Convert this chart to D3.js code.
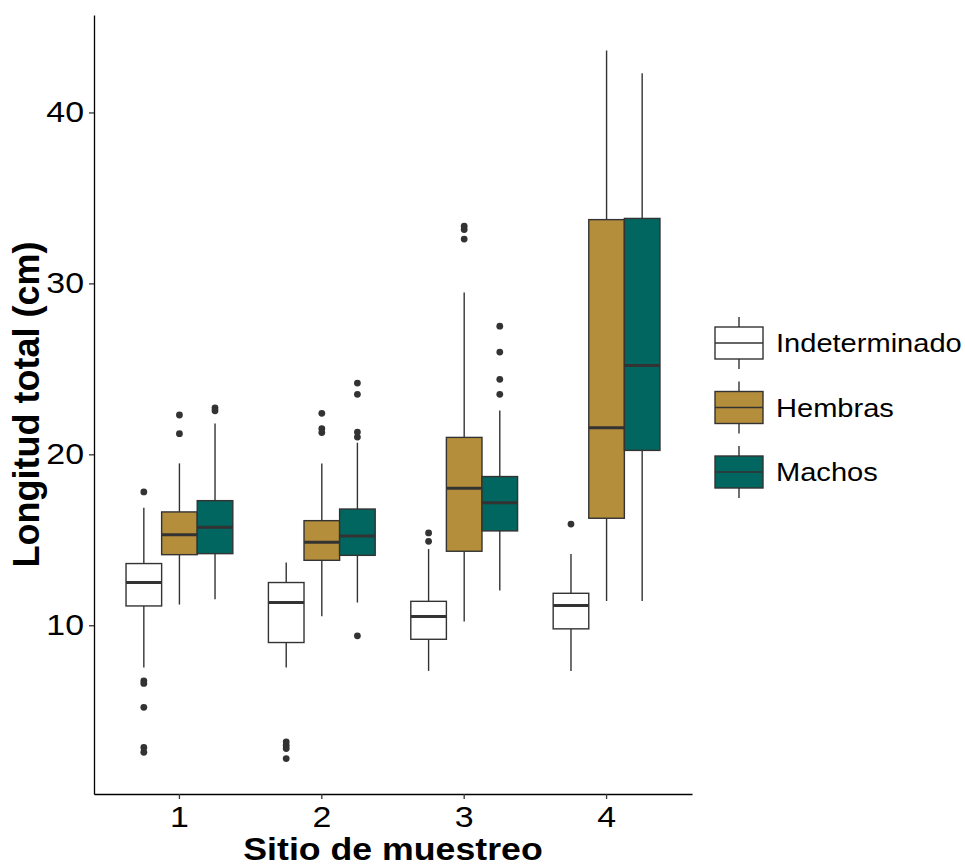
<!DOCTYPE html>
<html>
<head>
<meta charset="utf-8">
<script src="https://cdn.jsdelivr.net/npm/d3@7"></script>
<style>
  body { margin: 0; background: #fff; }
  svg { display: block; font-family: "Liberation Sans", Arial, sans-serif; }
</style>
</head>
<body>
<script>
// sites on the x axis
const sites = ["1", "2", "3", "4"];
const groups = ["Indeterminado", "Hembras", "Machos"];
const colors = ["#ffffff", "#b48e3b", "#00665f"];

// box stats per site: [lower whisker, q1, median, q3, upper whisker]
const indeterminado = [
  [7.53, 11.13, 12.5, 13.61, 16.88],
  [7.53, 8.99, 11.33, 12.5, 13.67],
  [7.33, 9.18, 10.51, 11.4, 14.46],
  [7.33, 9.79, 11.15, 11.87, 14.17],
];
const hembras = [
  [11.21, 14.13, 15.3, 16.63, 19.47],
  [10.53, 13.8, 14.85, 16.12, 19.47],
  [10.22, 14.33, 18.01, 20.99, 29.47],
  [11.42, 16.26, 21.56, 33.73, 43.63],
];
const machos = [
  [11.52, 14.19, 15.73, 17.29, 21.8],
  [11.33, 14.09, 15.22, 16.8, 20.68],
  [12.03, 15.52, 17.17, 18.7, 22.57],
  [11.42, 20.23, 25.2, 33.8, 42.3],
];

// outliers per site
const outIndeterminado = [
  [17.8, 6.75, 6.6, 5.2, 2.85, 2.57],
  [3.18, 2.98, 2.79, 2.2],
  [15.4, 14.91],
  [15.92],
];
const outHembras = [
  [22.3, 21.21],
  [22.4, 21.5, 21.27],
  [33.35, 33.15, 32.59],
  [],
];
const outMachos = [
  [22.72, 22.55],
  [24.17, 23.51, 21.3, 21.01, 9.38],
  [27.5, 25.98, 24.39, 23.51],
  [],
];

const yTicks = [10, 20, 30, 40];

const stats = [indeterminado, hembras, machos];
const outliers = [outIndeterminado, outHembras, outMachos];

const width = 965;
const height = 865;
const plot = { left: 94, right: 692, top: 15, bottom: 794 };
const sx = 1.15; // text looks a bit wider than plain Arial

const boxes = [];
const points = [];
groups.forEach((g, gi) => {
  sites.forEach((s, si) => {
    const [lw, q1, med, q3, uw] = stats[gi][si];
    boxes.push({ group: g, gi, site: s, lw, q1, med, q3, uw });
    outliers[gi][si].forEach((v) => points.push({ group: g, gi, site: s, v }));
  });
});

// ggplot-like 5% expansion of the data range
const allVals = boxes.flatMap((d) => [d.lw, d.uw]).concat(points.map((d) => d.v));
const [vmin, vmax] = d3.extent(allVals);
const pad = (vmax - vmin) * 0.05;

const y = d3.scaleLinear()
  .domain([vmin - pad, vmax + pad])
  .range([plot.bottom, plot.top]);

const x = d3.scaleBand()
  .domain(sites)
  .range([plot.left, plot.right])
  .paddingInner(0)
  .paddingOuter(0.1);

const dodge = d3.scaleBand()
  .domain(groups)
  .range([0, x.bandwidth() * 0.75]);

const boxW = dodge.bandwidth();
const cx = (d) => x(d.site) + x.bandwidth() * 0.125 + dodge(d.group) + boxW / 2;

const svg = d3.select("body").append("svg")
  .attr("width", width)
  .attr("height", height);

const stroke = "#333333";

// whiskers
svg.append("g").selectAll("line")
  .data(boxes)
  .join("line")
  .attr("x1", cx).attr("x2", cx)
  .attr("y1", (d) => y(d.lw)).attr("y2", (d) => y(d.uw))
  .attr("stroke", stroke)
  .attr("stroke-width", 1.4);

// boxes
svg.append("g").selectAll("rect")
  .data(boxes)
  .join("rect")
  .attr("x", (d) => cx(d) - boxW / 2)
  .attr("width", boxW)
  .attr("y", (d) => y(d.q3))
  .attr("height", (d) => y(d.q1) - y(d.q3))
  .attr("fill", (d) => colors[d.gi])
  .attr("stroke", stroke)
  .attr("stroke-width", 1.4);

// medians
svg.append("g").selectAll("line")
  .data(boxes)
  .join("line")
  .attr("x1", (d) => cx(d) - boxW / 2).attr("x2", (d) => cx(d) + boxW / 2)
  .attr("y1", (d) => y(d.med)).attr("y2", (d) => y(d.med))
  .attr("stroke", stroke)
  .attr("stroke-width", 3);

// outliers
svg.append("g").selectAll("circle")
  .data(points)
  .join("circle")
  .attr("cx", cx)
  .attr("cy", (d) => y(d.v))
  .attr("r", 3.4)
  .attr("fill", stroke);

// axes
const yAxis = svg.append("g")
  .attr("transform", `translate(${plot.left},0)`)
  .call(d3.axisLeft(y).tickValues(yTicks).tickSize(5).tickPadding(5).tickSizeOuter(0));

const xAxis = svg.append("g")
  .attr("transform", `translate(0,${plot.bottom})`)
  .call(d3.axisBottom(x).tickSize(5).tickPadding(7).tickSizeOuter(0));

[yAxis, xAxis].forEach((ax) => {
  ax.select(".domain").attr("stroke", "#000").attr("stroke-width", 1.3);
  ax.selectAll(".tick line").attr("stroke", "#333").attr("stroke-width", 1.3);
  ax.selectAll(".tick text")
    .attr("font-family", "Liberation Sans, Arial, sans-serif")
    .attr("font-size", 29.5)
    .attr("fill", "#000");
});
yAxis.selectAll(".tick text")
  .attr("x", -10 / sx)
  .attr("transform", `scale(${sx},1)`);
xAxis.selectAll(".tick text")
  .attr("transform", `scale(${sx},1)`);

// axis titles
svg.append("text")
  .attr("transform", `translate(${(plot.left + plot.right) / 2},860) scale(1.17,1)`)
  .attr("text-anchor", "middle")
  .attr("font-weight", "bold")
  .attr("font-size", 30.5)
  .attr("fill", "#000")
  .text("Sitio de muestreo");

svg.append("text")
  .attr("transform", `translate(38.5,${(plot.top + plot.bottom) / 2}) rotate(-90)`)
  .attr("text-anchor", "middle")
  .attr("font-weight", "bold")
  .attr("font-size", 36)
  .attr("fill", "#000")
  .text("Longitud total (cm)");

// legend
const legend = svg.append("g").attr("transform", "translate(715,343)");
const keyStep = 64.5;
const keyW = 48;

const key = legend.selectAll("g")
  .data(groups)
  .join("g")
  .attr("transform", (d, i) => `translate(0,${i * keyStep})`);

key.append("line")
  .attr("x1", keyW / 2).attr("x2", keyW / 2)
  .attr("y1", -26).attr("y2", 26)
  .attr("stroke", stroke).attr("stroke-width", 1.4);

key.append("rect")
  .attr("x", 0).attr("y", -16)
  .attr("width", keyW).attr("height", 32)
  .attr("fill", (d, i) => colors[i])
  .attr("stroke", stroke).attr("stroke-width", 1.4);

key.append("line")
  .attr("x1", 0).attr("x2", keyW)
  .attr("y1", 0).attr("y2", 0)
  .attr("stroke", stroke).attr("stroke-width", 1.4);

key.append("text")
  .attr("transform", `translate(61,9) scale(1.14,1)`)
  .attr("font-size", 25.5)
  .attr("fill", "#000")
  .text((d) => d);
</script>
</body>
</html>
